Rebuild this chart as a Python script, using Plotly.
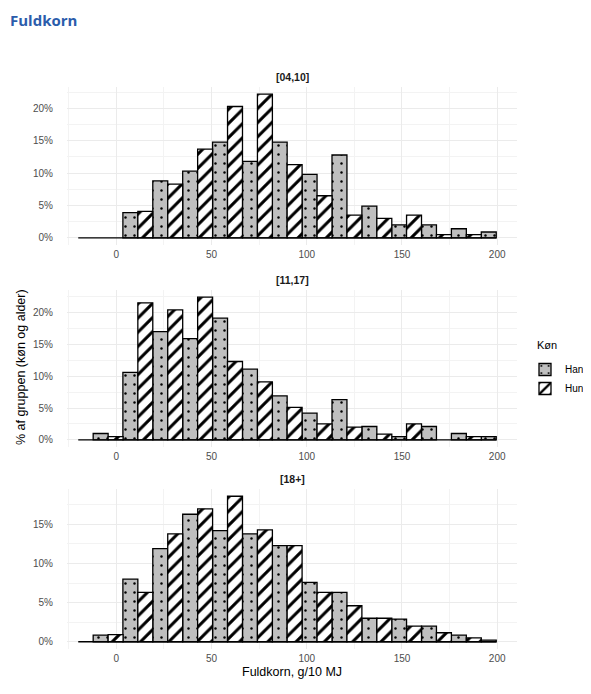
import plotly.graph_objects as go
from plotly.subplots import make_subplots

# bin midpoints (g/10 MJ); each bin split in a Han half and a Hun half
bin_mid = [-20.0, -4.3, 11.3, 27.0, 42.7, 58.4, 74.1, 89.7, 105.4, 121.1, 136.8, 152.4, 168.1, 183.8, 199.5]

age_groups = ["[04,10]", "[11,17]", "[18+]"]
sexes = ["Han", "Hun"]

# % of group
han_04_10 = [0, 0, 3.9, 8.8, 10.3, 14.8, 11.8, 14.8, 9.8, 12.8, 4.9, 2.0, 2.0, 1.4, 0.9]
hun_04_10 = [0, 0, 4.1, 8.3, 13.7, 20.3, 22.2, 11.3, 6.5, 3.5, 3.0, 3.5, 0.5, 0.5, 0]

han_11_17 = [0, 1.0, 10.6, 17.0, 15.9, 19.1, 11.1, 6.9, 4.2, 6.3, 2.1, 0.5, 2.1, 1.0, 0.5]
hun_11_17 = [0, 0.5, 21.5, 20.4, 22.4, 12.3, 9.1, 5.1, 2.5, 2.0, 0.9, 2.5, 0, 0.5, 0]

han_18 = [0, 0.85, 8.0, 11.9, 16.3, 14.2, 13.8, 12.3, 7.6, 6.3, 3.0, 2.9, 2.0, 0.85, 0.2]
hun_18 = [0, 0.9, 6.3, 13.8, 17.0, 18.6, 14.3, 12.3, 6.3, 4.6, 3.0, 2.0, 1.15, 0.5, 0]

panels = [(age_groups[0], han_04_10, hun_04_10),
          (age_groups[1], han_11_17, hun_11_17),
          (age_groups[2], han_18, hun_18)]

# the page body has an 8px margin, so the figure is a bit smaller than the window
PAD = 8
W, H = 591 - PAD, 694 - PAD
ML, MR = 67 - PAD, 74
PW = W - ML - MR


def px_x(p):
    # window pixel -> paper x
    return (p - PAD - ML) / PW


def px_y(p):
    # window pixel -> paper y
    return 1 - (p - PAD) / H


# panel top/bottom in window pixels
panel_px = [(87, 245), (290, 447), (489, 649)]

GRID = "#ebebeb"
TICK = "#4d4d4d"
FONT = "Liberation Sans, Arial, sans-serif"

half = (bin_mid[1] - bin_mid[0]) / 2

styles = {
    "Han": dict(bgcolor="#bfbfbf", shape=".", size=9, solidity=0.06),
    "Hun": dict(bgcolor="white", shape="/", size=10, solidity=0.3),
}

fig = make_subplots(rows=3, cols=1)

for i, (age, han, hun) in enumerate(panels):
    for sex, vals, off in [("Han", han, -half), ("Hun", hun, 0)]:
        st = styles[sex]
        fig.add_trace(go.Bar(
            x=bin_mid,
            y=[v if v > 0 else None for v in vals],
            width=half,
            offset=off,
            name=sex,
            legendgroup=sex,
            showlegend=(i == 0),
            marker=dict(
                color=st["bgcolor"],
                line=dict(color="black", width=1.3),
                pattern=dict(shape=st["shape"], fgcolor="black", bgcolor=st["bgcolor"],
                             size=st["size"], solidity=st["solidity"], fillmode="replace"),
            ),
        ), row=i + 1, col=1)

    # zero-height bins still get an outline in the original
    fig.add_trace(go.Scatter(
        x=[bin_mid[0], bin_mid[-1]], y=[0, 0], mode="lines",
        line=dict(color="black", width=1.3), showlegend=False, hoverinfo="skip",
    ), row=i + 1, col=1)

    top, bot = panel_px[i]
    m = max(max(han), max(hun))
    xname = "xaxis" if i == 0 else f"xaxis{i + 1}"
    yname = "yaxis" if i == 0 else f"yaxis{i + 1}"
    fig.layout[xname].update(
        range=[-25.9, 210.4], tickmode="linear", tick0=0, dtick=50,
        showgrid=True, gridcolor=GRID, gridwidth=1.1, zeroline=False, showline=False,
        ticks="", tickfont=dict(size=10, color=TICK, family=FONT), ticklabelstandoff=2,
        minor=dict(dtick=25, tick0=0, showgrid=True, gridcolor="#f3f3f3", gridwidth=0.6),
        automargin=False,
    )
    fig.layout[yname].update(
        domain=[px_y(bot), px_y(top)],
        range=[-0.05 * m, 1.05 * m], tickmode="linear", tick0=0, dtick=5, ticksuffix="%",
        showgrid=True, gridcolor=GRID, gridwidth=1.1, zeroline=False, showline=False,
        ticks="", tickfont=dict(size=10, color=TICK, family=FONT), ticklabelstandoff=13,
        minor=dict(dtick=2.5, tick0=0, showgrid=True, gridcolor="#f3f3f3", gridwidth=0.6),
        automargin=False,
    )
    fig.add_annotation(
        text="<b>" + age + "</b>", xref="paper", yref="paper",
        x=0.5, y=px_y(top), xanchor="center", yanchor="bottom", yshift=2,
        showarrow=False, font=dict(size=10.5, color="#1a1a1a", family=FONT),
    )

fig.add_annotation(
    text="Fuldkorn, g/10 MJ", xref="paper", yref="paper",
    x=0.5, y=px_y(672), xanchor="center", yanchor="middle",
    showarrow=False, font=dict(size=12.5, color="black", family=FONT),
)
fig.add_annotation(
    text="% af gruppen (køn og alder)", xref="paper", yref="paper",
    x=px_x(21), y=px_y(367), xanchor="center", yanchor="middle",
    textangle=-90, showarrow=False, font=dict(size=12.5, color="black", family=FONT),
)
fig.add_annotation(
    text="<b>Fuldkorn</b>", xref="paper", yref="paper",
    x=px_x(8), y=px_y(20), xanchor="left", yanchor="middle",
    showarrow=False, font=dict(size=15, color="#2b5cab", family="Open Sans, sans-serif"),
)
# legend title, placed on its own so the keys can sit further left
fig.add_annotation(
    text="Køn", xref="paper", yref="paper",
    x=px_x(535), y=px_y(345), xanchor="left", yanchor="middle",
    showarrow=False, font=dict(size=11, color="black", family=FONT),
)

fig.update_layout(
    width=W, height=H,
    margin=dict(l=ML, r=MR, t=0, b=0, autoexpand=False),
    template="none",
    plot_bgcolor="white", paper_bgcolor="white",
    barmode="overlay",
    showlegend=True,
    legend=dict(
        x=px_x(525), xanchor="left",
        y=px_y(355), yanchor="top",
        font=dict(size=10, color="black", family=FONT),
        bgcolor="rgba(0,0,0,0)", itemwidth=30, tracegroupgap=0,
    ),
    font=dict(family=FONT),
)

fig.write_html("out.html")
